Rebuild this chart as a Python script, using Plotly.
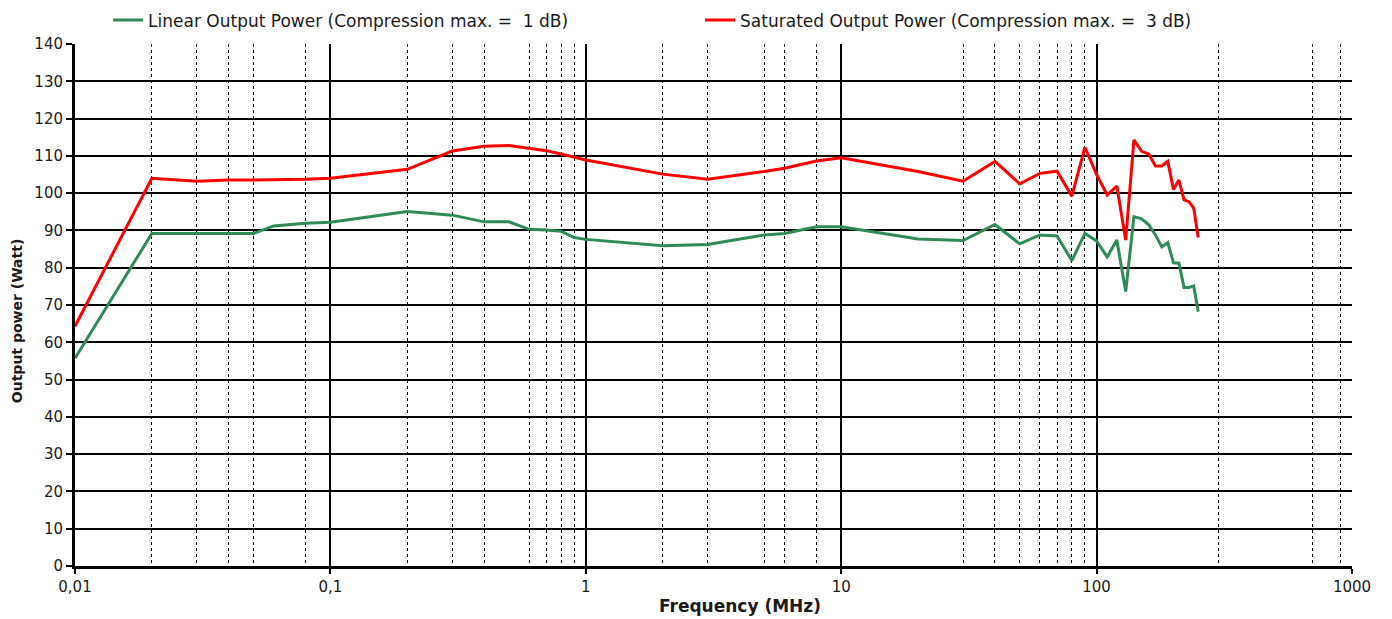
import plotly.graph_objects as go

# ---- data ----
freq_linear = [0.01, 0.02, 0.03, 0.04, 0.05, 0.06, 0.08, 0.1, 0.2, 0.3, 0.4, 0.5,
               0.6, 0.7, 0.8, 0.9, 1, 2, 3, 5, 6, 8, 10, 20, 30, 40, 50, 60, 70,
               80, 90, 100, 110, 120, 130, 140, 150, 160, 170, 180, 190, 200,
               210, 220, 230, 240, 250]
power_linear = [55.7, 89.2, 89.2, 89.2, 89.2, 91.2, 91.9, 92.2, 95.1, 94.1, 92.3, 92.3,
                90.3, 90.1, 89.8, 88.1, 87.6, 85.9, 86.2, 88.8, 89.2, 91.0, 91.0, 87.7,
                87.3, 91.6, 86.4, 88.8, 88.5, 81.9, 89.2, 87.2, 82.9, 87.4, 73.6, 93.7,
                93.1, 91.5, 88.8, 85.6, 86.7, 81.3, 81.2, 74.7, 74.7, 75.1, 68.2]

freq_sat = freq_linear
power_sat = [64.3, 104.0, 103.2, 103.5, 103.5, 103.5, 103.7, 104.0, 106.4, 111.3, 112.6, 112.8,
             112.0, 111.4, 110.5, 109.6, 108.9, 105.1, 103.7, 105.8, 106.7, 108.6, 109.5, 105.8,
             103.2, 108.5, 102.5, 105.3, 105.9, 99.2, 112.3, 105.0, 99.5, 101.9, 87.4, 114.3,
             111.2, 110.5, 107.3, 107.3, 108.5, 101.0, 103.5, 98.2, 97.7, 96.0, 88.1]

name_linear = "Linear Output Power (Compression max. =  1 dB)"
name_sat = "Saturated Output Power (Compression max. =  3 dB)"
x_title = "Frequency (MHz)"
y_title = "Output power (Watt)"

x_major_vals = [0.01, 0.1, 1, 10, 100, 1000]
x_major_text = ["0,01", "0,1", "1", "10", "100", "1000"]
x_minor_vals = [0.02, 0.03, 0.04, 0.05, 0.08,
                0.2, 0.3, 0.4, 0.6, 0.7, 0.8, 0.9,
                2, 3, 5, 6, 8,
                30, 40, 50, 60, 70, 80, 90,
                300, 700, 900]

font_family = "DejaVu Sans, Liberation Sans, Arial, sans-serif"
text_color = "#1a1a1a"

fig = go.Figure()
fig.add_trace(go.Scatter(x=freq_linear, y=power_linear, mode="lines", name=name_linear,
                         line=dict(color="#2e8b57", width=3)))
fig.add_trace(go.Scatter(x=freq_sat, y=power_sat, mode="lines", name=name_sat,
                         line=dict(color="#ff0000", width=3)))

fig.update_layout(
    width=1392, height=611,
    margin=dict(l=67, r=48, t=36, b=53, autoexpand=False),
    paper_bgcolor="white", plot_bgcolor="white",
    font=dict(family=font_family, size=15, color=text_color),
    showlegend=True,
    legend=dict(orientation="h", x=0.0259, xanchor="left", y=1.045, yanchor="middle",
                font=dict(size=17, color=text_color), entrywidth=547, entrywidthmode="pixels",
                bgcolor="rgba(0,0,0,0)"),
    xaxis=dict(
        type="log", range=[-2, 3],
        tickmode="array", tickvals=x_major_vals, ticktext=x_major_text,
        showgrid=True, gridcolor="black", gridwidth=1.5,
        showline=True, linecolor="black", linewidth=3,
        ticks="outside", ticklen=5, tickwidth=2, tickcolor="black",
        tickfont=dict(size=15, color=text_color),
        minor=dict(tickmode="array", tickvals=x_minor_vals, showgrid=True,
                   gridcolor="black", gridwidth=1, griddash="3px,3px", ticks=""),
        zeroline=False,
    ),
    yaxis=dict(
        range=[0, 140], tickmode="linear", tick0=0, dtick=10,
        showgrid=True, gridcolor="black", gridwidth=2,
        showline=True, linecolor="black", linewidth=3,
        ticks="outside", ticklen=6, tickwidth=2, tickcolor="black",
        tickfont=dict(size=15, color=text_color),
        zeroline=False,
    ),
    annotations=[
        dict(text="<b>" + x_title + "</b>", xref="paper", yref="paper", x=0.5207, y=0,
             xanchor="center", yanchor="middle", yshift=-40, showarrow=False,
             font=dict(size=17, color=text_color)),
        dict(text="<b>" + y_title + "</b>", xref="paper", yref="paper", x=-0.0454, y=0.469,
             xanchor="center", yanchor="middle", textangle=-90, showarrow=False,
             font=dict(size=14, color=text_color)),
    ],
)

fig.write_html("out.html")
